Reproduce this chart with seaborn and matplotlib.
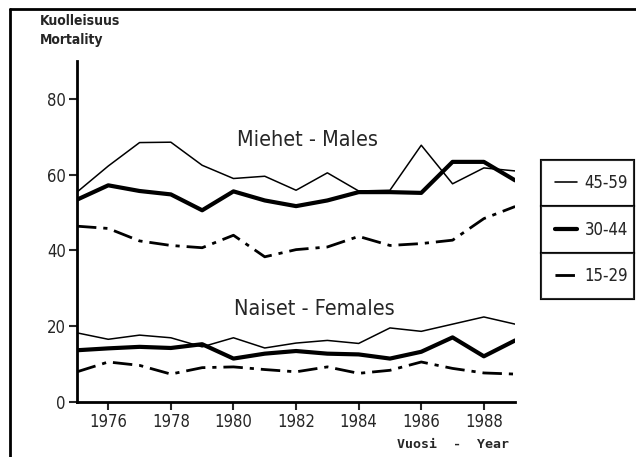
import matplotlib
matplotlib.use("Agg")
import matplotlib.pyplot as plt
import numpy as np
import pandas as pd
import seaborn as sns
from matplotlib.lines import Line2D

years = list(range(1975, 1990))

# Miehet - Males
male_45_59 = [55.4, 62.3, 68.5, 68.6, 62.5, 59.0, 59.6, 55.9, 60.5, 55.7, 55.9, 67.8, 57.6, 61.8, 61.0]
male_30_44 = [53.4, 57.2, 55.7, 54.8, 50.6, 55.6, 53.2, 51.7, 53.2, 55.4, 55.4, 55.2, 63.4, 63.4, 58.5]
male_15_29 = [46.4, 45.8, 42.5, 41.3, 40.7, 44.0, 38.3, 40.2, 40.9, 43.7, 41.3, 41.8, 42.7, 48.4, 51.6]

# Naiset - Females
female_45_59 = [18.2, 16.5, 17.6, 16.9, 14.5, 16.9, 14.2, 15.5, 16.2, 15.4, 19.5, 18.6, 20.5, 22.4, 20.5]
female_30_44 = [13.6, 14.1, 14.5, 14.2, 15.2, 11.4, 12.7, 13.4, 12.7, 12.5, 11.4, 13.2, 17.0, 12.0, 16.2]
female_15_29 = [7.9, 10.5, 9.6, 7.3, 9.0, 9.2, 8.5, 7.9, 9.2, 7.5, 8.3, 10.5, 8.8, 7.6, 7.3]

age_groups = ["45-59", "30-44", "15-29"]
x_ticks = [1976, 1978, 1980, 1982, 1984, 1986, 1988]
y_ticks = [0, 20, 40, 60, 80]

sns.set_style("white")
plt.rcParams['font.family'] = ['DejaVu Sans']
plt.rcParams['font.stretch'] = 'condensed'

styles = {
    "45-59": dict(linewidth=1.1, linestyle="-"),
    "30-44": dict(linewidth=3.0, linestyle="-"),
    "15-29": dict(linewidth=2.0, linestyle=(0, (7, 2.5, 1.5, 2.5))),
}

series = [
    ("45-59", male_45_59), ("30-44", male_30_44), ("15-29", male_15_29),
    ("45-59", female_45_59), ("30-44", female_30_44), ("15-29", female_15_29),
]

fig = plt.figure(figsize=(6.36, 4.57), dpi=100)
ax = fig.add_axes([0.121, 0.121, 0.689, 0.745])

for grp, vals in series:
    sns.lineplot(x=years, y=vals, ax=ax, color="black", **styles[grp])

ax.set_xlim(1975, 1989)
ax.set_ylim(0, 90)
ax.set_xticks(x_ticks)
ax.set_yticks(y_ticks)
ax.tick_params(axis="both", direction="out", length=6, width=1.5, labelsize=12,
               left=True, bottom=True, pad=2)
for s in ["top", "right"]:
    ax.spines[s].set_visible(False)
for s in ["left", "bottom"]:
    ax.spines[s].set_linewidth(2)
    ax.spines[s].set_color("black")

ax.text(1982.35, 69.2, "Miehet - Males", fontsize=15.5, ha="center", va="center")
ax.text(1982.6, 24.6, "Naiset - Females", fontsize=15.5, ha="center", va="center")

fig.text(0.063, 0.955, "Kuolleisuus", fontsize=10, fontweight="bold", va="center")
fig.text(0.063, 0.913, "Mortality", fontsize=10, fontweight="bold", va="center")
fig.text(0.80, 0.027, "Vuosi  -  Year", fontsize=9.5, fontweight="bold",
         family="DejaVu Sans Mono", ha="right", va="center")

# legend: each entry in its own box
cell_h = 0.1015
for i, grp in enumerate(age_groups):
    h = Line2D([], [], color="black", **styles[grp])
    leg = fig.legend([h], [grp], loc="upper left", mode="expand",
                     bbox_to_anchor=(0.851, 0.650 - (i + 1) * cell_h, 0.146, cell_h),
                     fontsize=12, frameon=True, fancybox=False,
                     handlelength=1.3, handletextpad=0.45, borderpad=0.85,
                     borderaxespad=0, edgecolor="black")
    leg.get_frame().set_linewidth(1.5)
    fig.add_artist(leg)

# outer frame lines of the figure
fig.add_artist(Line2D([0.016, 1.0], [0.98, 0.98], color="black", lw=2, transform=fig.transFigure))
fig.add_artist(Line2D([0.016, 0.016], [0.0, 0.98], color="black", lw=2, transform=fig.transFigure))

fig.savefig("out.png", dpi=100)
